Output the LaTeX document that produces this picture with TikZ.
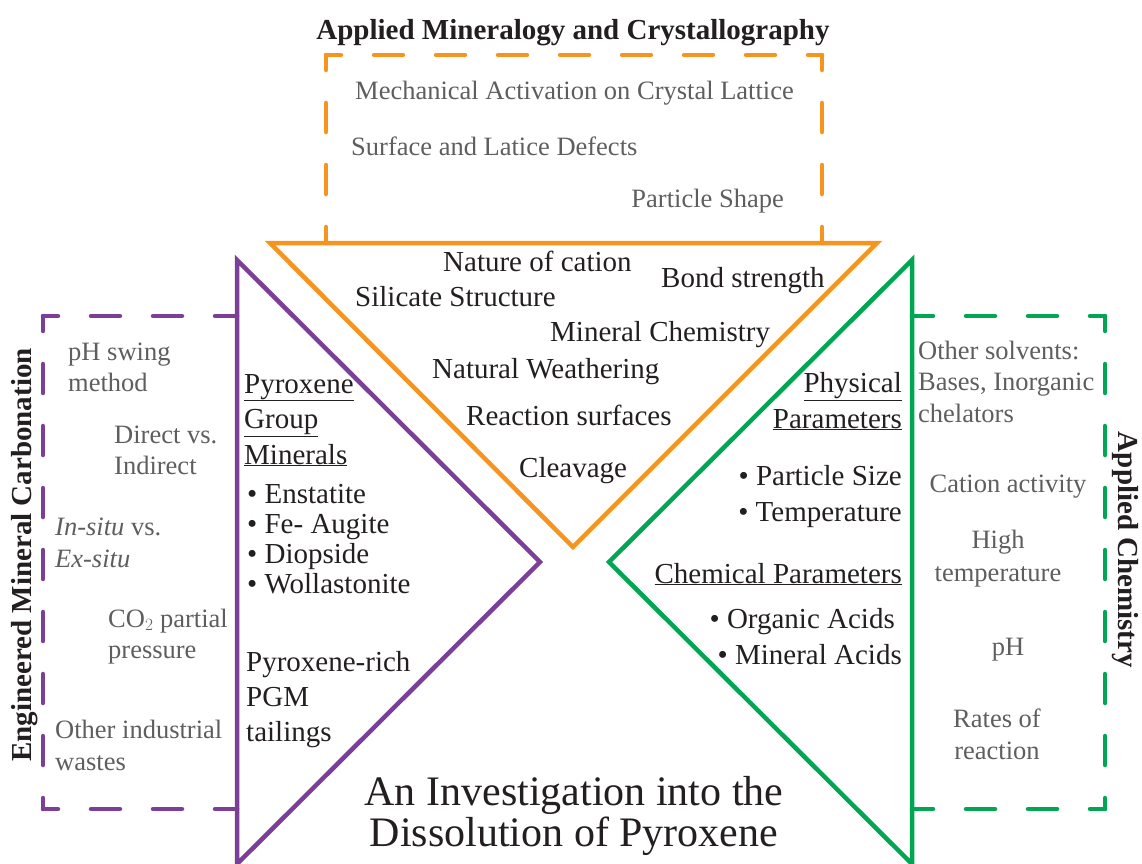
\documentclass[tikz,border=0pt]{standalone}
\usepackage{fontspec}
\setmainfont{Liberation Serif}
\definecolor{pxpurple}{HTML}{7B3F98}
\definecolor{pxorange}{HTML}{F7941D}
\definecolor{pxgreen}{HTML}{00A651}
\definecolor{pxgrey}{HTML}{5E5E5E}
\definecolor{pxblack}{HTML}{231F20}
\tikzset{
	side/.style={line width=4.5pt, line join=miter},
	dashside/.style={line width=4.5pt, line cap=round, dash pattern=on 29pt off 33pt, dash phase=14pt},
	grey/.style={text=pxgrey, inner sep=0pt, font=\fontsize{26.5}{31}\selectfont},
	blk/.style={text=pxblack, inner sep=0pt, font=\fontsize{29}{35.5}\selectfont},
	head/.style={text=pxblack, inner sep=0pt, font=\bfseries\fontsize{29}{30}\selectfont},
}
\begin{document}
\begin{tikzpicture}[x=1pt,y=-1pt]
		\useasboundingbox (0,0) rectangle (1142,863);

		% the three triangles
		\draw[side,pxorange] (270,243)--(877,243)--(573,547)--cycle;
		\draw[side,pxpurple] (237,260)--(540,562)--(237,864)--cycle;
		\draw[side,pxgreen] (912,260)--(609,562)--(912,864)--cycle;

		% dashed boxes
		\coordinate (ob-nw) at (326,55);
		\coordinate (ob-ne) at (822,55);
		\coordinate (ob-sw) at (326,243);
		\coordinate (ob-se) at (822,243);
		\draw[dashside,pxorange] (ob-nw)--(ob-ne);
		\draw[dashside,pxorange] (ob-nw)--(ob-sw);
		\draw[dashside,pxorange] (ob-ne)--(ob-se);

		\coordinate (pb-nw) at (43,316);
		\coordinate (pb-sw) at (43,809);
		\coordinate (pb-ne) at (237,316);
		\coordinate (pb-se) at (237,809);
		\draw[dashside,pxpurple] (pb-nw)--(pb-ne);
		\draw[dashside,pxpurple] (pb-nw)--(pb-sw);
		\draw[dashside,pxpurple] (pb-sw)--(pb-se);

		\coordinate (gb-ne) at (1105,316);
		\coordinate (gb-se) at (1105,809);
		\coordinate (gb-nw) at (912,316);
		\coordinate (gb-sw) at (912,809);
		\draw[dashside,pxgreen] (gb-ne)--(gb-nw);
		\draw[dashside,pxgreen] (gb-ne)--(gb-se);
		\draw[dashside,pxgreen] (gb-se)--(gb-sw);

		% headings (multi-line nodes sit on their last baseline)
		\node[head,anchor=base] (mintitle) at (573,39) {Applied Mineralogy and Crystallography};
		\node[head,rotate=90] (carbtitle) at (25,555) {Engineered Mineral Carbonation};
		\node[head,rotate=-90] (chemtitle) at (1125,550) {Applied Chemistry};
		\node[blk,anchor=base,align=center,font=\fontsize{42}{41}\selectfont] (maintitle) at (574,846) {An Investigation into the\\Dissolution of Pyroxene};

		% orange box
		\node[grey,anchor=base west] (mechact) at (355,99) {Mechanical Activation on Crystal Lattice};
		\node[grey,anchor=base west] (defects) at (351,155) {Surface and Latice Defects};
		\node[grey,anchor=base east] (shape) at (784,207) {Particle Shape};

		% orange triangle
		\node[blk,anchor=base west] (cation) at (443,271) {Nature of cation};
		\node[blk,anchor=base west] (bond) at (661,287) {Bond strength};
		\node[blk,anchor=base west] (silicate) at (355,306) {Silicate Structure};
		\node[blk,anchor=base west] (minchem) at (550,341) {Mineral Chemistry};
		\node[blk,anchor=base west] (weather) at (432,378) {Natural Weathering};
		\node[blk,anchor=base west] (surfaces) at (466,425) {Reaction surfaces};
		\node[blk,anchor=base west] (cleavage) at (519,477) {Cleavage};

		% purple box
		\node[grey,anchor=base west,align=left] (phswing) at (68,391) {pH swing\\method};
		\node[grey,anchor=base west,align=left] (direct) at (114,474) {Direct vs.\\Indirect};
		\node[grey,anchor=base west,align=left,font=\fontsize{26.5}{32}\selectfont] (insitu) at (55,567) {\textit{In-situ} vs.\\\textit{Ex-situ}};
		\node[grey,anchor=base west,align=left] (copress) at (108,658) {CO$_2$ partial\\pressure};
		\node[grey,anchor=base west,align=left,font=\fontsize{26.5}{32}\selectfont] (wastes) at (55,770) {Other industrial\\wastes};

		% purple triangle
		\node[blk,anchor=base west,align=left] (pgroup) at (244,464) {\underline{Pyroxene}\\\underline{Group}\\\underline{Minerals}};
		\node[blk,anchor=base west,align=left,font=\fontsize{29}{29.7}\selectfont] (plist) at (247,593) {\textbullet\ Enstatite\\\textbullet\ Fe- Augite\\\textbullet\ Diopside\\\textbullet\ Wollastonite};
		\node[blk,anchor=base west,align=left,font=\fontsize{29}{35}\selectfont] (tailings) at (246,741) {Pyroxene-rich\\PGM\\tailings};

		% green triangle
		\node[blk,anchor=base east,align=right] (physpar) at (902,428) {\underline{Physical}\\\underline{Parameters}};
		\node[blk,anchor=base east,align=right,font=\fontsize{29}{36}\selectfont] (physlist) at (902,521) {\textbullet\ Particle Size\\\textbullet\ Temperature};
		\node[blk,anchor=base east] (chempar) at (902,583) {\underline{Chemical Parameters}};
		\node[blk,anchor=base east] (organic) at (895,628) {\textbullet\ Organic Acids};
		\node[blk,anchor=base east] (mineral) at (902,664) {\textbullet\ Mineral Acids};

		% green box
		\node[grey,anchor=base west,align=left,font=\fontsize{26.5}{31.5}\selectfont] (solvents) at (918,422) {Other solvents:\\Bases, Inorganic\\chelators};
		\node[grey,anchor=base] (activity) at (1008,492) {Cation activity};
		\node[grey,anchor=base,align=center,font=\fontsize{26.5}{33}\selectfont] (hightemp) at (998,581) {High\\temperature};
		\node[grey,anchor=base] (ph) at (1008,655) {pH};
		\node[grey,anchor=base,align=center,font=\fontsize{26.5}{32}\selectfont] (rates) at (997,759) {Rates of\\reaction};
	\end{tikzpicture}
\end{document}
